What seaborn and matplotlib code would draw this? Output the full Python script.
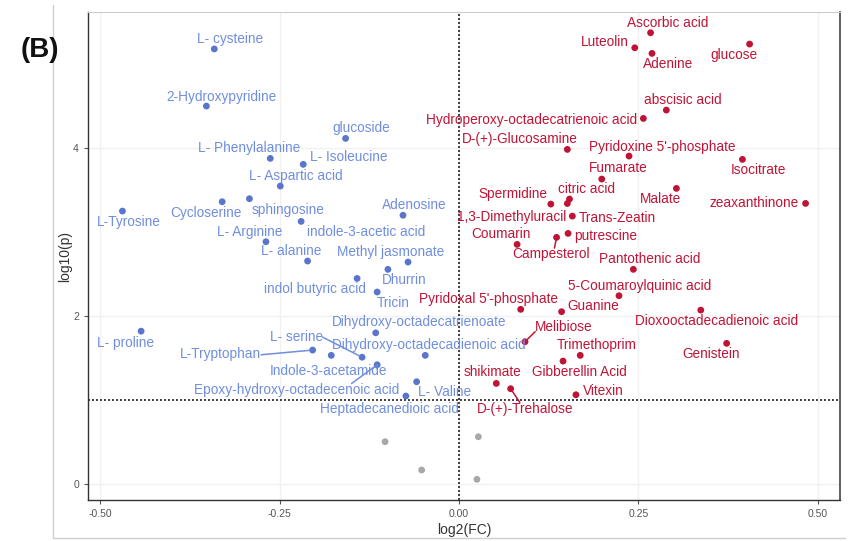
import matplotlib
matplotlib.use("Agg")
import matplotlib.pyplot as plt
import seaborn as sns
import pandas as pd
from matplotlib.lines import Line2D

# ---------------- data ----------------
down_names = ["L- cysteine", "2-Hydroxypyridine", "glucoside", "L- Phenylalanine", "L- Isoleucine",
              "L- Aspartic acid", "Cycloserine", "sphingosine", "L-Tyrosine", "indole-3-acetic acid",
              "Adenosine", "L- Arginine", "L- alanine", "Methyl jasmonate", "Dhurrin",
              "indol butyric acid", "Tricin", "L- proline", "Dihydroxy-octadecatrienoate",
              "L-Tryptophan", "L- serine", "Indole-3-acetamide", "Epoxy-hydroxy-octadecenoic acid",
              "Dihydroxy-octadecadienoic acid", "L- Valine", "Heptadecanedioic acid"]
down_fc = [-0.341, -0.352, -0.158, -0.263, -0.217, -0.249, -0.330, -0.292, -0.469, -0.220,
           -0.078, -0.269, -0.211, -0.071, -0.099, -0.142, -0.114, -0.443, -0.116,
           -0.204, -0.135, -0.178, -0.114, -0.047, -0.059, -0.074]
down_p = [5.18, 4.50, 4.115, 3.877, 3.806, 3.548, 3.361, 3.397, 3.25, 3.127,
          3.20, 2.885, 2.655, 2.643, 2.556, 2.448, 2.286, 1.82, 1.80,
          1.595, 1.51, 1.532, 1.42, 1.532, 1.218, 1.048]

up_names = ["Ascorbic acid", "Luteolin", "Adenine", "glucose", "abscisic acid",
            "Hydroperoxy-octadecatrienoic acid", "D-(+)-Glucosamine", "Pyridoxine 5'-phosphate",
            "Isocitrate", "Fumarate", "Malate", "citric acid", "Spermidine", "zeaxanthinone",
            "1,3-Dimethyluracil", "Trans-Zeatin", "putrescine", "Coumarin", "Campesterol",
            "Pantothenic acid", "5-Coumaroylquinic acid", "Pyridoxal 5'-phosphate", "Guanine",
            "Dioxooctadecadienoic acid", "Melibiose", "Genistein", "Trimethoprim",
            "Gibberellin Acid", "shikimate", "D-(+)-Trehalose", "Vitexin"]
up_fc = [0.267, 0.245, 0.269, 0.405, 0.289, 0.257, 0.151, 0.237, 0.395, 0.199, 0.303,
         0.154, 0.128, 0.483, 0.151, 0.158, 0.152, 0.081, 0.136, 0.243, 0.223, 0.086,
         0.143, 0.337, 0.092, 0.373, 0.169, 0.145, 0.052, 0.072, 0.163]
up_p = [5.373, 5.194, 5.127, 5.238, 4.452, 4.353, 3.984, 3.905, 3.865, 3.631, 3.52,
        3.393, 3.333, 3.341, 3.34, 3.19, 2.984, 2.853, 2.937, 2.556, 2.242, 2.08,
        2.052, 2.071, 1.694, 1.675, 1.532, 1.464, 1.198, 1.135, 1.063]

ns_fc = [-0.103, -0.052, 0.027, 0.025]
ns_p = [0.504, 0.167, 0.563, 0.056]

x_ticks = [-0.50, -0.25, 0.00, 0.25, 0.50]
x_tick_labels = ["-0.50", "-0.25", "0.00", "0.25", "0.50"]
y_ticks = [0, 2, 4]
p_threshold = 1.0

# ---------------- label layout (offsets in pixels, +y is up) ----------------
down_off = {
    "L- cysteine": (16, 10), "2-Hydroxypyridine": (15, 9), "glucoside": (16, 10),
    "L- Phenylalanine": (-21, 10), "L- Isoleucine": (45, 7), "L- Aspartic acid": (16, 10),
    "Cycloserine": (-16, -11), "sphingosine": (39, -11), "L-Tyrosine": (6, -11),
    "indole-3-acetic acid": (65, -11), "Adenosine": (11, 10), "L- Arginine": (-16, 10),
    "L- alanine": (-16, 10), "Methyl jasmonate": (-17, 10), "Dhurrin": (16, -11),
    "indol butyric acid": (-42, -11), "Tricin": (16, -11), "L- proline": (-16, -12),
    "Dihydroxy-octadecatrienoate": (43, 11), "L-Tryptophan": (-92, -4),
    "L- serine": (-66, 20), "Indole-3-acetamide": (-3, -16),
    "Epoxy-hydroxy-octadecenoic acid": (-81, -25), "Dihydroxy-octadecadienoic acid": (4, 10),
    "L- Valine": (28, -10), "Heptadecanedioic acid": (-16, -13)}
up_off = {
    "Ascorbic acid": (17, 10), "Luteolin": (-30, 6), "Adenine": (16, -11), "glucose": (-16, -11),
    "abscisic acid": (16, 10), "Hydroperoxy-octadecatrienoic acid": (-112, -2),
    "D-(+)-Glucosamine": (-48, 10), "Pyridoxine 5'-phosphate": (33, 9), "Isocitrate": (16, -11),
    "Fumarate": (16, 11), "Malate": (-16, -11), "citric acid": (17, 10), "Spermidine": (-38, 10),
    "zeaxanthinone": (-51, 0), "1,3-Dimethyluracil": (-56, -13), "Trans-Zeatin": (45, -2),
    "putrescine": (38, -3), "Coumarin": (-16, 10), "Campesterol": (-6, -17),
    "Pantothenic acid": (16, 10), "5-Coumaroylquinic acid": (21, 10),
    "Pyridoxal 5'-phosphate": (-32, 10), "Guanine": (32, 6), "Dioxooctadecadienoic acid": (16, -11),
    "Melibiose": (39, 15), "Genistein": (-16, -11), "Trimethoprim": (16, 10),
    "Gibberellin Acid": (16, -11), "shikimate": (-4, 11), "D-(+)-Trehalose": (14, -20),
    "Vitexin": (27, 4)}
# where on the label box the connector segment starts (relative box coords)
segment_anchor = {"L-Tryptophan": (1.0, 0.45), "L- serine": (1.0, 0.5),
                  "Epoxy-hydroxy-octadecenoic acid": (0.77, 0.95),
                  "Campesterol": (0.55, 0.95), "Melibiose": (0.0, 0.15),
                  "D-(+)-Trehalose": (0.45, 0.95)}

# ---------------- build frame ----------------
df = pd.concat([
    pd.DataFrame({"name": down_names, "fc": down_fc, "p": down_p, "grp": "down"}),
    pd.DataFrame({"name": up_names, "fc": up_fc, "p": up_p, "grp": "up"}),
    pd.DataFrame({"name": [""] * len(ns_fc), "fc": ns_fc, "p": ns_p, "grp": "ns"}),
], ignore_index=True)

sns.set_style("white")
plt.rcParams["font.family"] = ["Liberation Sans", "DejaVu Sans"]

BLUE_PT = "#5a76cc"
BLUE_TX = "#6f8ede"
RED = "#c01436"
GREY = "#a8a8a8"

fig = plt.figure(figsize=(8.49, 5.41), dpi=100)
ax = fig.add_axes([88 / 849, 41 / 541, (840 - 88) / 849, (500 - 12) / 541])

palette = {"down": BLUE_PT, "up": RED, "ns": GREY}
sns.scatterplot(data=df, x="fc", y="p", hue="grp", palette=palette, s=24,
                linewidth=0, legend=False, ax=ax, zorder=3)

ax.set_xlim(-0.517, 0.531)
ax.set_ylim(-0.19, 5.62)
ax.set_xticks(x_ticks)
ax.set_xticklabels(x_tick_labels)
ax.set_yticks(y_ticks)
ax.grid(True, color="#f1f1f1", linewidth=1.0, zorder=0)
ax.tick_params(axis="both", labelsize=7.5, colors="#555555", length=3, width=0.8,
               direction="out", bottom=True, left=True)
for side in ["left", "bottom"]:
    ax.spines[side].set_color("#333333")
    ax.spines[side].set_linewidth(1.0)
ax.spines["top"].set_color("#cccccc")
ax.spines["right"].set_color("#444444")
ax.spines["right"].set_linewidth(1.2)

ax.axvline(0, color="#222222", linestyle=(0, (1.2, 1.2)), linewidth=1.2, zorder=2)
ax.axhline(p_threshold, color="#222222", linestyle=(0, (1.2, 1.2)), linewidth=1.2, zorder=2)

ax.set_xlabel("log2(FC)", fontsize=10, color="#333333", labelpad=3)
ax.set_ylabel("log10(p)", fontsize=10, color="#333333", labelpad=1)

def put_labels(names, xs, ys, offs, color):
    for n, x, y in zip(names, xs, ys):
        dx, dy = offs[n]
        kw = {}
        if n in segment_anchor:
            kw["arrowprops"] = dict(arrowstyle="-", color=color, lw=1.1,
                                    relpos=segment_anchor[n], patchA=None,
                                    shrinkA=0, shrinkB=2)
        ax.annotate(n, (x, y), xytext=(dx, dy), textcoords="offset pixels",
                    ha="center", va="center", fontsize=9.8, color=color, zorder=4, **kw)

put_labels(down_names, down_fc, down_p, down_off, BLUE_TX)
put_labels(up_names, up_fc, up_p, up_off, RED)

fig.text(40 / 849, 1 - 50 / 541, "(B)", fontsize=20, fontweight="bold",
         ha="center", va="center", color="#111111")
fig.add_artist(Line2D([53 / 849, 53 / 849], [0.005, 0.99], color="#cfcfcf", lw=1.0))
fig.add_artist(Line2D([53 / 849, 0.995], [0.005, 0.005], color="#cfcfcf", lw=1.0))

fig.savefig("out.png", dpi=100)
